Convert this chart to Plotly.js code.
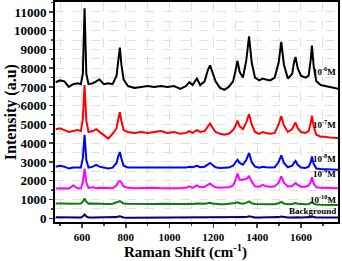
<!DOCTYPE html>
<html><head><meta charset="utf-8">
<script src="https://cdn.plot.ly/plotly-3.0.1.min.js"></script>
<style>html,body{margin:0;padding:0;background:#fff}#c{width:342px;height:261px}</style>
</head><body><div id="c"></div>
<script>
const wavenumber = [480,500,520,540,560,580,595,604,612,620,630,650,665,680,700,720,740,758,766,773,780,790,810,840,870,900,930,960,990,1020,1050,1075,1090,1105,1125,1140,1160,1175,1185,1195,1210,1230,1250,1270,1290,1300,1310,1320,1335,1350,1363,1375,1390,1410,1425,1440,1460,1480,1498,1510,1522,1540,1560,1568,1575,1585,1600,1620,1635,1645,1650,1658,1670,1690,1710,1730,1750,1770];

const conc6 = [7250,7350,7300,7000,7150,7200,7150,7700,11200,7700,7150,7200,7300,7400,7150,7200,7150,7600,8400,9100,8200,7400,7050,6950,7000,7050,7000,7050,7000,7050,6900,7050,7250,7100,7450,7100,7300,7900,8150,7800,7300,6950,6850,7000,7300,7800,8400,7800,7500,8400,9700,8300,7500,7350,7450,7400,7350,7500,8300,9400,8200,7450,7700,8300,8600,8000,7600,7500,7600,8500,9200,8100,7300,7100,7050,7000,6950,6900];

const conc7 = [4750,4800,4700,4600,4650,4700,4650,5300,7100,5200,4600,4650,4750,4600,4450,4250,4500,4800,5300,5650,5200,4700,4600,4550,4600,4550,4600,4650,4550,4600,4500,4550,4650,4550,4700,4600,4650,4900,5050,4850,4600,4500,4450,4500,4700,4900,5200,4900,4750,5100,5550,5000,4600,4500,4600,4550,4500,4550,5000,5450,4950,4600,4750,4950,5100,4800,4600,4550,4650,5100,5450,4900,4450,4350,4350,4300,4300,4280];

const conc8 = [2750,2800,2750,2650,2700,2700,2700,3200,4450,3100,2700,2750,2850,2750,2700,2650,2700,2950,3300,3530,3200,2800,2700,2700,2720,2700,2700,2720,2700,2700,2680,2700,2750,2720,2800,2720,2750,2880,2950,2850,2720,2680,2680,2700,2800,2950,3120,2950,2850,3100,3480,3000,2750,2700,2750,2720,2700,2720,3000,3350,2950,2720,2800,2950,3050,2850,2700,2680,2750,3000,3300,2900,2650,2620,2610,2600,2590,2590];

const conc9 = [1580,1600,1600,1580,1750,1600,1600,1900,2650,1900,1620,1650,1600,1620,1600,1580,1600,1750,1950,1990,1900,1700,1620,1600,1620,1600,1620,1600,1620,1600,1600,1620,1700,1620,1750,1650,1680,1800,1850,1750,1650,1620,1620,1650,1750,2000,2380,2050,2050,2100,2230,1950,1700,1680,1780,1700,1680,1700,1900,2230,1900,1700,1720,1820,1880,1780,1680,1680,1750,1950,2180,1850,1650,1620,1620,1600,1600,1600];

const conc10 = [780,790,780,770,780,780,780,880,1060,880,780,790,780,780,770,760,770,820,880,910,860,790,770,760,770,760,760,770,760,760,750,760,770,760,790,770,770,800,830,790,760,750,750,760,780,810,850,800,780,820,900,800,760,750,760,750,750,750,800,870,790,750,760,790,810,770,750,740,760,800,860,780,730,720,720,720,715,710];

const background = [50,50,40,40,40,40,40,100,200,100,40,40,40,40,30,30,30,60,90,110,80,40,30,30,30,30,30,30,30,30,30,30,40,30,50,40,40,50,70,50,40,30,30,30,40,50,70,50,40,60,100,60,40,40,40,40,40,40,60,90,60,40,40,50,60,50,40,40,40,60,90,60,40,40,40,40,40,40];

const seriesNames = ["10<sup>-6</sup>M","10<sup>-7</sup>M","10<sup>-8</sup>M","10<sup>-9</sup>M","10<sup>-10</sup>M","Background"];
const labelY = [7830,5050,3190,2410,1010,370];
const colors = ["#000000","#ff0000","#0000ff","#ff00ff","#0a7a0a","#000080"];
const allSeries = [conc6,conc7,conc8,conc9,conc10,background];
const serif = 'Liberation Serif, Times New Roman, serif';

const traces = allSeries.map((s,i)=>({x:wavenumber,y:s,type:'scatter',mode:'lines',
  line:{color:colors[i],width:2},name:seriesNames[i],showlegend:false,hoverinfo:'skip'}));

const annotations = seriesNames.map((n,i)=>({text:n,xref:'paper',x:1,xanchor:'right',
  yref:'y',y:labelY[i],yanchor:'middle',showarrow:false,
  font:{family:serif,size:9,color:'#000',weight:'bold'}}));
annotations.push({text:'Raman Shift (cm<sup>-1</sup>)',xref:'paper',x:0.46,xanchor:'center',
  yref:'paper',y:-0.08,yanchor:'top',showarrow:false,
  font:{family:serif,size:15,color:'#000',weight:'bold'}});
annotations.push({text:'Intensity (a.u)',xref:'paper',x:-0.155,xanchor:'center',
  yref:'paper',y:0.5,yanchor:'middle',textangle:-90,showarrow:false,
  font:{family:serif,size:16,color:'#000',weight:'bold'}});

const layout = {
  width:342,height:261,margin:{l:55,r:4,t:2,b:39},
  paper_bgcolor:'#fff',plot_bgcolor:'#fff',
  xaxis:{range:[477,1769],tickvals:[600,800,1000,1200,1400,1600],ticks:'outside',ticklen:4,tickwidth:1.5,
    showline:true,linewidth:2,linecolor:'#000',mirror:true,zeroline:false,
    showgrid:true,gridcolor:'#e0e0e0',griddash:'dash',gridwidth:1,
    minor:{dtick:100,tick0:500,ticks:'outside',ticklen:2,showgrid:true,gridcolor:'#e0e0e0',griddash:'dash'},
    tickfont:{family:serif,size:11,color:'#000',weight:'bold'}},
  yaxis:{range:[-200,11530],dtick:1000,tick0:0,tickformat:'d',ticks:'outside',ticklen:4,tickwidth:1.5,
    showline:true,linewidth:2,linecolor:'#000',mirror:true,zeroline:false,
    showgrid:true,gridcolor:'#e0e0e0',griddash:'dash',gridwidth:1,
    minor:{dtick:500,ticks:'outside',ticklen:2,showgrid:true,gridcolor:'#e0e0e0',griddash:'dash'},
    tickfont:{family:serif,size:13,color:'#000',weight:'bold'}},
  annotations:annotations
};
Plotly.newPlot('c',traces,layout,{displayModeBar:false,staticPlot:true});
</script></body></html>
